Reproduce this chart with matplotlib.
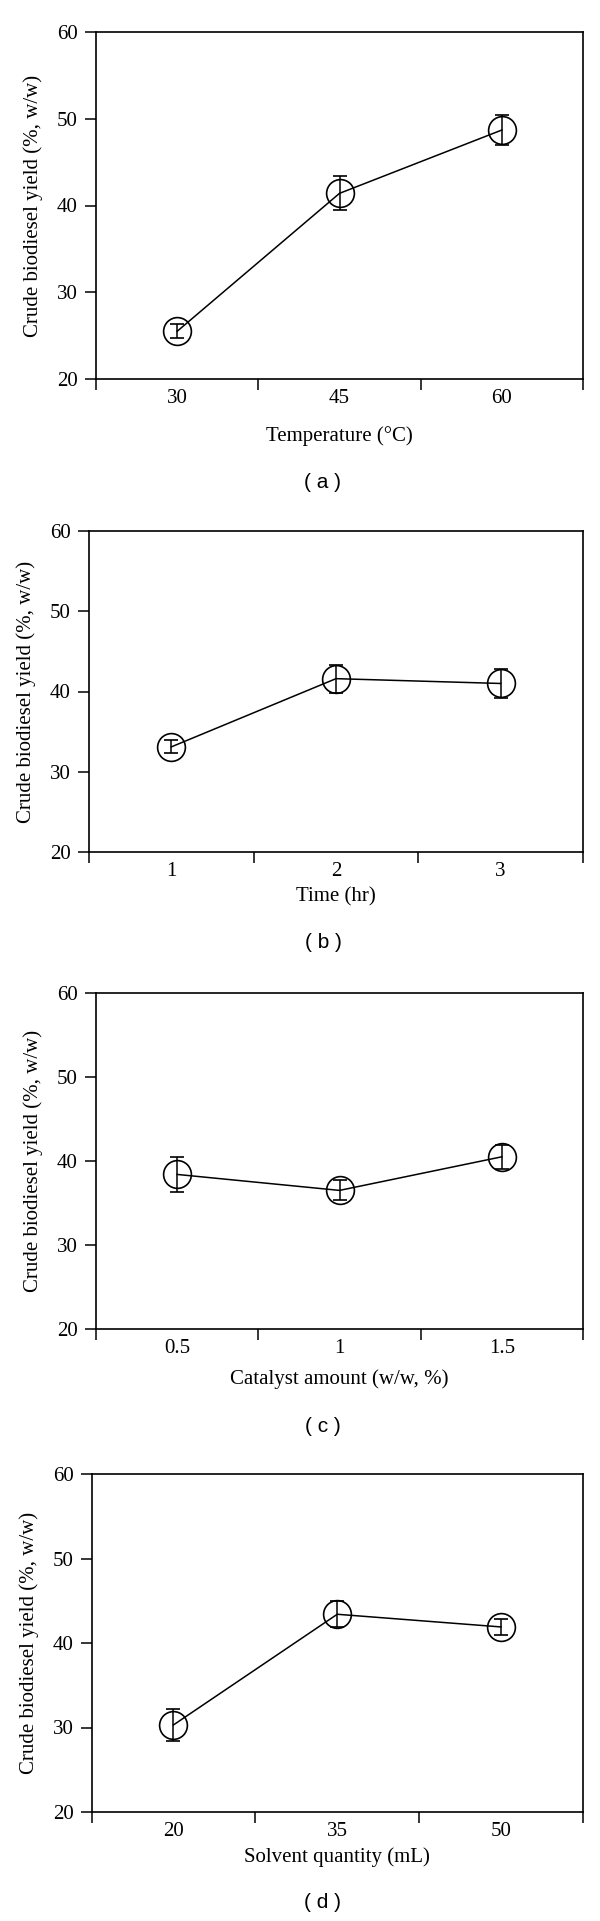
#!/usr/bin/env python3

import matplotlib
matplotlib.use('Agg')
from matplotlib import pyplot as plt

W, H = 600, 1921

# panel (a) temperature
temp_labels = ['30', '45', '60']
temp_yield = [25.5, 41.4, 48.7]
temp_err = [0.8, 1.95, 1.7]

# panel (b) time
time_labels = ['1', '2', '3']
time_yield = [33.1, 41.6, 41.0]
time_err = [0.8, 1.75, 1.8]

# panel (c) catalyst
cat_labels = ['0.5', '1', '1.5']
cat_yield = [38.4, 36.5, 40.5]
cat_err = [2.05, 1.2, 1.4]

# panel (d) solvent
solv_labels = ['20', '35', '50']
solv_yield = [30.3, 43.4, 41.9]
solv_err = [1.85, 1.55, 0.9]

YLABEL = 'Crude biodiesel yield (%, w/w)'
SERIF = 'Liberation Serif'
FS = 15


def add_panel(fig, box, labels, vals, errs, xlabel, xpad, tag, tag_y):
	left, top, right, bottom = box
	ax = fig.add_axes([left / W, 1 - bottom / H, (right - left) / W, (bottom - top) / H])
	xs = [0.5, 1.5, 2.5]
	ax.errorbar(xs, vals, yerr=errs, color='black', lw=1.1, elinewidth=1.1,
		capsize=5, capthick=1.1, marker='o', ms=20, mfc='none', mec='black', mew=1.2)
	ax.set_xlim(0, 3)
	ax.set_ylim(20, 60)
	ax.set_yticks([20, 30, 40, 50, 60])
	ax.set_xticks([0, 1, 2, 3])
	ax.set_xticklabels([])
	ax.set_xticks(xs, labels, minor=True)
	ax.tick_params(which='major', direction='out', length=8, width=1.1, pad=5)
	ax.tick_params(which='minor', length=0, pad=7)
	for lab in ax.get_xticklabels(minor=True) + ax.get_yticklabels():
		lab.set_fontfamily(SERIF)
		lab.set_fontsize(FS)
	for s in ax.spines.values():
		s.set_linewidth(1.2)
	ax.set_xlabel(xlabel, fontfamily=SERIF, fontsize=FS, labelpad=xpad)
	ax.set_ylabel(YLABEL, fontfamily=SERIF, fontsize=FS, labelpad=10)
	fig.text(323 / W, 1 - tag_y / H, tag, ha='center', va='center',
		fontfamily='Liberation Sans', fontsize=FS)
	return ax


def main():
	fig = plt.figure(figsize=(W / 100, H / 100), dpi=100)
	add_panel(fig, (96, 32, 583, 379), temp_labels, temp_yield, temp_err,
		'Temperature (°C)', 13, '( a )', 482)
	add_panel(fig, (89, 531, 583, 852), time_labels, time_yield, time_err,
		'Time (hr)', 5, '( b )', 943)
	add_panel(fig, (96, 993, 583, 1329), cat_labels, cat_yield, cat_err,
		'Catalyst amount (w/w, %)', 8, '( c )', 1427)
	add_panel(fig, (91.5, 1474, 583, 1812), solv_labels, solv_yield, solv_err,
		'Solvent quantity (mL)', 5, '( d )', 1903)
	fig.savefig('out.png', dpi=100)


if __name__ == "__main__":
	main()
